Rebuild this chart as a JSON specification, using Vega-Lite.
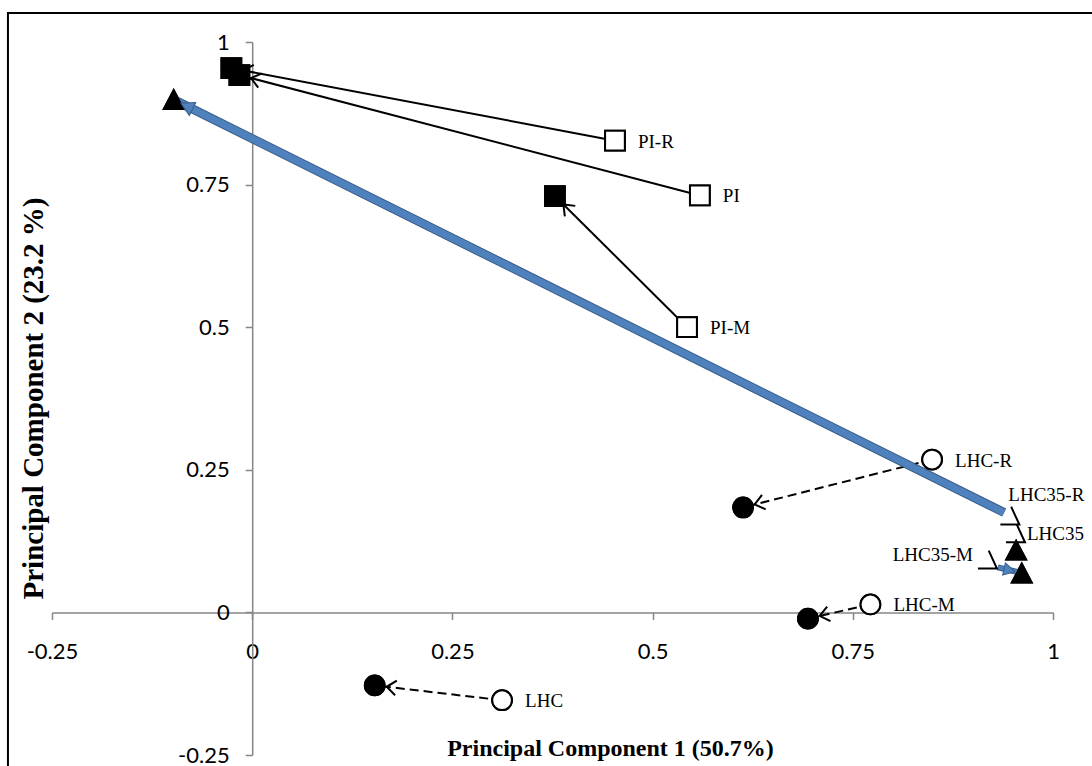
{
  "$schema": "https://vega.github.io/schema/vega-lite/v6.json",
  "width": 1001,
  "height": 713,
  "autosize": "none",
  "padding": {"left": 52, "top": 42, "right": 39, "bottom": 11},
  "background": "white",
  "config": {
    "view": {"stroke": null},
    "axis": {
      "grid": false,
      "domainColor": "#868686",
      "domainWidth": 1.5,
      "tickColor": "#868686",
      "tickWidth": 1.5,
      "tickSize": 7,
      "labelFont": "Lato",
      "labelFontSize": 22,
      "labelColor": "#000000",
      "labelFlush": false,
      "labelOverlap": false,
      "titleFont": "Liberation Serif",
      "titleFontWeight": "bold",
      "titleFontSize": 24,
      "titleColor": "#000000"
    }
  },
  "datasets": {
    "points": [
      {"sample": "PI-R", "group": "PI", "state": "open", "pc1": 0.453, "pc2": 0.827},
      {"sample": "PI", "group": "PI", "state": "open", "pc1": 0.559, "pc2": 0.731},
      {"sample": "PI-M", "group": "PI", "state": "open", "pc1": 0.543, "pc2": 0.5},
      {"sample": "PI-R", "group": "PI", "state": "filled", "pc1": -0.026, "pc2": 0.954},
      {"sample": "PI", "group": "PI", "state": "filled", "pc1": -0.016, "pc2": 0.942},
      {"sample": "PI-M", "group": "PI", "state": "filled", "pc1": 0.378, "pc2": 0.73},
      {"sample": "LHC-R", "group": "LHC", "state": "open", "pc1": 0.849, "pc2": 0.268},
      {"sample": "LHC-M", "group": "LHC", "state": "open", "pc1": 0.772, "pc2": 0.014},
      {"sample": "LHC", "group": "LHC", "state": "open", "pc1": 0.312, "pc2": -0.154},
      {"sample": "LHC-R", "group": "LHC", "state": "filled", "pc1": 0.613, "pc2": 0.184},
      {"sample": "LHC-M", "group": "LHC", "state": "filled", "pc1": 0.694, "pc2": -0.011},
      {"sample": "LHC", "group": "LHC", "state": "filled", "pc1": 0.153, "pc2": -0.128},
      {"sample": "LHC35-R", "group": "LHC35", "state": "filled", "pc1": -0.098, "pc2": 0.899},
      {"sample": "LHC35", "group": "LHC35", "state": "filled", "pc1": 0.954, "pc2": 0.109},
      {"sample": "LHC35-M", "group": "LHC35", "state": "filled", "pc1": 0.961, "pc2": 0.069}
    ],
    "lhc35": [
      {"sample": "LHC35-R", "pc1": 0.958, "pc2": 0.154},
      {"sample": "LHC35", "pc1": 0.965, "pc2": 0.123},
      {"sample": "LHC35-M", "pc1": 0.93, "pc2": 0.077}
    ],
    "arrows": [
      {"pair": "PI-R", "style": "solid", "x0": 0.453, "y0": 0.827, "x1": -0.026, "y1": 0.954},
      {"pair": "PI", "style": "solid", "x0": 0.559, "y0": 0.731, "x1": -0.016, "y1": 0.942},
      {"pair": "PI-M", "style": "solid", "x0": 0.543, "y0": 0.5, "x1": 0.378, "y1": 0.73},
      {"pair": "LHC-R", "style": "dashed", "x0": 0.849, "y0": 0.268, "x1": 0.613, "y1": 0.184},
      {"pair": "LHC-M", "style": "dashed", "x0": 0.772, "y0": 0.014, "x1": 0.694, "y1": -0.011},
      {"pair": "LHC", "style": "dashed", "x0": 0.312, "y0": -0.154, "x1": 0.153, "y1": -0.128},
      {"pair": "LHC35-R", "style": "blue", "x0": 0.939, "y0": 0.175, "x1": -0.098, "y1": 0.899},
      {"pair": "LHC35-M", "style": "blue", "x0": 0.931, "y0": 0.079, "x1": 0.961, "y1": 0.069}
    ]
  },
  "layer": [
    {
      "data": {"name": "points"},
      "mark": {"type": "point", "filled": true, "stroke": "#000000", "strokeWidth": 2, "opacity": 1},
      "encoding": {
        "x": {"field": "pc1", "type": "quantitative", "scale": {"domain": [-0.25, 1], "nice": false, "zero": false},
          "axis": {"orient": "bottom", "offset": -142.6, "values": [-0.25, 0, 0.25, 0.5, 0.75, 1], "labelExpr": "'' + datum.value", "labelPadding": 22,
            "title": "Principal Component 1 (50.7%)", "titleX": 558, "titleY": 143, "titleAlign": "center", "titleBaseline": "alphabetic", "titleAngle": 0}},
        "y": {"field": "pc2", "type": "quantitative", "scale": {"domain": [-0.25, 1], "nice": false, "zero": false},
          "axis": {"orient": "left", "offset": -200.2, "values": [-0.25, 0, 0.25, 0.5, 0.75, 1], "labelExpr": "'' + datum.value", "labelPadding": 16,
            "title": "Principal Component 2 (23.2 %)", "titleX": -219, "titleY": 356, "titleAlign": "center", "titleBaseline": "middle", "titleAngle": -90, "titleFontSize": 29}},
        "shape": {"field": "group", "type": "nominal", "scale": {"domain": ["PI", "LHC", "LHC35"], "range": ["square", "circle", "M0,-0.95L1,0.95L-1,0.95Z"]}, "legend": null},
        "fill": {"field": "state", "type": "nominal", "scale": {"domain": ["open", "filled"], "range": ["#ffffff", "#000000"]}, "legend": null},
        "size": {"value": 390}
      }
    },
    {
      "data": {"values": [{}]},
      "mark": {"type": "rect", "fill": "transparent", "stroke": "#000000", "strokeWidth": 2},
      "encoding": {
        "x": {"datum": -0.305, "type": "quantitative", "scale": {"domain": [-0.25, 1], "nice": false, "zero": false}},
        "x2": {"datum": 1.06},
        "y": {"datum": 1.051, "type": "quantitative", "scale": {"domain": [-0.25, 1], "nice": false, "zero": false}},
        "y2": {"datum": -0.3}
      }
    },
    {
      "data": {"name": "arrows"},
      "transform": [{"filter": "datum.style === 'solid'"}],
      "mark": {"type": "rule", "color": "#000000", "strokeWidth": 2},
      "encoding": {
        "x": {"field": "x0", "type": "quantitative", "scale": {"domain": [-0.25, 1], "nice": false, "zero": false}},
        "y": {"field": "y0", "type": "quantitative", "scale": {"domain": [-0.25, 1], "nice": false, "zero": false}},
        "x2": {"field": "x1"},
        "y2": {"field": "y1"}
      }
    },
    {
      "data": {"name": "arrows"},
      "transform": [{"filter": "datum.style === 'dashed'"}],
      "mark": {"type": "rule", "color": "#000000", "strokeWidth": 2, "strokeDash": [9, 5]},
      "encoding": {
        "x": {"field": "x0", "type": "quantitative", "scale": {"domain": [-0.25, 1], "nice": false, "zero": false}},
        "y": {"field": "y0", "type": "quantitative", "scale": {"domain": [-0.25, 1], "nice": false, "zero": false}},
        "x2": {"field": "x1"},
        "y2": {"field": "y1"}
      }
    },
    {
      "data": {"name": "arrows"},
      "transform": [{"filter": "datum.style === 'blue'"}],
      "mark": {"type": "rule", "color": "#385D8A"},
      "encoding": {
        "x": {"field": "x0", "type": "quantitative", "scale": {"domain": [-0.25, 1], "nice": false, "zero": false}},
        "y": {"field": "y0", "type": "quantitative", "scale": {"domain": [-0.25, 1], "nice": false, "zero": false}},
        "x2": {"field": "x1"},
        "y2": {"field": "y1"},
        "strokeWidth": {"condition": {"test": "datum.pair === 'LHC35-M'", "value": 6}, "value": 9}
      }
    },
    {
      "data": {"name": "arrows"},
      "transform": [{"filter": "datum.style === 'blue'"}],
      "mark": {"type": "rule", "color": "#4F81BD"},
      "encoding": {
        "x": {"field": "x0", "type": "quantitative", "scale": {"domain": [-0.25, 1], "nice": false, "zero": false}},
        "y": {"field": "y0", "type": "quantitative", "scale": {"domain": [-0.25, 1], "nice": false, "zero": false}},
        "x2": {"field": "x1"},
        "y2": {"field": "y1"},
        "strokeWidth": {"condition": {"test": "datum.pair === 'LHC35-M'", "value": 4}, "value": 7}
      }
    },
    {
      "data": {"name": "points"},
      "mark": {"type": "point", "filled": true, "stroke": "#000000", "strokeWidth": 2, "opacity": 1},
      "encoding": {
        "x": {"field": "pc1", "type": "quantitative", "scale": {"domain": [-0.25, 1], "nice": false, "zero": false}},
        "y": {"field": "pc2", "type": "quantitative", "scale": {"domain": [-0.25, 1], "nice": false, "zero": false}},
        "shape": {"field": "group", "type": "nominal", "scale": {"domain": ["PI", "LHC", "LHC35"], "range": ["square", "circle", "M0,-0.95L1,0.95L-1,0.95Z"]}, "legend": null},
        "fill": {"field": "state", "type": "nominal", "scale": {"domain": ["open", "filled"], "range": ["#ffffff", "#000000"]}, "legend": null},
        "size": {"value": 390}
      }
    },
    {
      "data": {"name": "arrows"},
      "transform": [{"filter": "datum.style !== 'blue'"}],
      "mark": {"type": "point", "filled": false, "stroke": "#000000", "strokeWidth": 2, "opacity": 1, "shape": "M-1.07,-0.37L-0.6,0L-1.07,0.37", "size": 1600},
      "encoding": {
        "x": {"field": "x1", "type": "quantitative", "scale": {"domain": [-0.25, 1], "nice": false, "zero": false}},
        "y": {"field": "y1", "type": "quantitative", "scale": {"domain": [-0.25, 1], "nice": false, "zero": false}},
        "angle": {"condition": [
          {"test": "datum.pair === 'PI-R'", "value": 190.7},
          {"test": "datum.pair === 'PI'", "value": 194.6},
          {"test": "datum.pair === 'PI-M'", "value": 224.9},
          {"test": "datum.pair === 'LHC-R'", "value": 165.6},
          {"test": "datum.pair === 'LHC-M'", "value": 167}
        ], "value": 186.7}
      }
    },
    {
      "data": {"name": "arrows"},
      "transform": [{"filter": "datum.style === 'blue'"}],
      "mark": {"type": "point", "filled": true, "fill": "#4F81BD", "stroke": "#385D8A", "strokeWidth": 1, "opacity": 1, "shape": "M-0.4,0L-1.05,-0.36L-1.05,0.36Z"},
      "encoding": {
        "x": {"field": "x1", "type": "quantitative", "scale": {"domain": [-0.25, 1], "nice": false, "zero": false}},
        "y": {"field": "y1", "type": "quantitative", "scale": {"domain": [-0.25, 1], "nice": false, "zero": false}},
        "angle": {"condition": {"test": "datum.pair === 'LHC35-M'", "value": 12.7}, "value": 206.4},
        "size": {"condition": {"test": "datum.pair === 'LHC35-M'", "value": 1200}, "value": 1600}
      }
    },
    {
      "data": {"name": "lhc35"},
      "mark": {"type": "point", "filled": false, "stroke": "#000000", "strokeWidth": 2, "opacity": 1, "shape": "M-0.41,-0.89L0,0L-0.95,0", "size": 1600},
      "encoding": {
        "x": {"field": "pc1", "type": "quantitative", "scale": {"domain": [-0.25, 1], "nice": false, "zero": false}},
        "y": {"field": "pc2", "type": "quantitative", "scale": {"domain": [-0.25, 1], "nice": false, "zero": false}}
      }
    },
    {
      "data": {"name": "points"},
      "transform": [{"filter": "datum.state === 'open'"}],
      "mark": {"type": "text", "align": "left", "baseline": "middle", "dx": 23, "dy": 1, "font": "Liberation Serif", "fontSize": 19, "color": "#000000"},
      "encoding": {
        "x": {"field": "pc1", "type": "quantitative", "scale": {"domain": [-0.25, 1], "nice": false, "zero": false}},
        "y": {"field": "pc2", "type": "quantitative", "scale": {"domain": [-0.25, 1], "nice": false, "zero": false}},
        "text": {"field": "sample"}
      }
    },
    {
      "data": {"name": "lhc35"},
      "transform": [{"filter": "datum.sample === 'LHC35-R'"}],
      "mark": {"type": "text", "align": "left", "baseline": "middle", "dx": -11, "dy": -30, "font": "Liberation Serif", "fontSize": 19, "color": "#000000"},
      "encoding": {
        "x": {"field": "pc1", "type": "quantitative", "scale": {"domain": [-0.25, 1], "nice": false, "zero": false}},
        "y": {"field": "pc2", "type": "quantitative", "scale": {"domain": [-0.25, 1], "nice": false, "zero": false}},
        "text": {"field": "sample"}
      }
    },
    {
      "data": {"name": "lhc35"},
      "transform": [{"filter": "datum.sample === 'LHC35'"}],
      "mark": {"type": "text", "align": "left", "baseline": "middle", "dx": 2, "dy": -8, "font": "Liberation Serif", "fontSize": 19, "color": "#000000"},
      "encoding": {
        "x": {"field": "pc1", "type": "quantitative", "scale": {"domain": [-0.25, 1], "nice": false, "zero": false}},
        "y": {"field": "pc2", "type": "quantitative", "scale": {"domain": [-0.25, 1], "nice": false, "zero": false}},
        "text": {"field": "sample"}
      }
    },
    {
      "data": {"name": "lhc35"},
      "transform": [{"filter": "datum.sample === 'LHC35-M'"}],
      "mark": {"type": "text", "align": "right", "baseline": "middle", "dx": -24, "dy": -13, "font": "Liberation Serif", "fontSize": 19, "color": "#000000"},
      "encoding": {
        "x": {"field": "pc1", "type": "quantitative", "scale": {"domain": [-0.25, 1], "nice": false, "zero": false}},
        "y": {"field": "pc2", "type": "quantitative", "scale": {"domain": [-0.25, 1], "nice": false, "zero": false}},
        "text": {"field": "sample"}
      }
    }
  ]
}
